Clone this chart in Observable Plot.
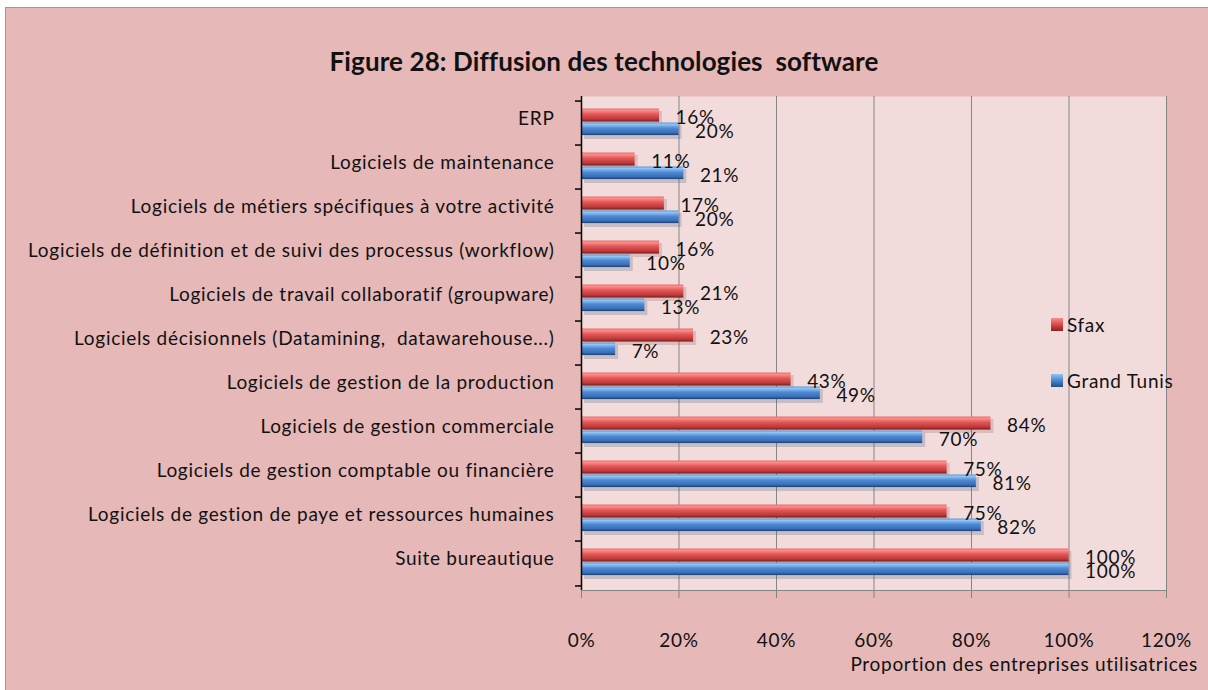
<!DOCTYPE html>
<html>
<head>
<meta charset="utf-8">
<script src="https://cdn.jsdelivr.net/npm/d3@7"></script>
<script src="https://cdn.jsdelivr.net/npm/@observablehq/plot@0.6"></script>
<style>
  html, body { margin: 0; padding: 0; background: #ffffff; }
  body { width: 1208px; height: 690px; overflow: hidden; font-family: Lato, "Open Sans", sans-serif; }
  #frame { position: absolute; left: 5px; top: 7px; width: 1210px; height: 690px; background: #e6b8b7; border: 1px solid #9a9a9a; box-sizing: border-box; }
  #title { position: absolute; left: 0; top: 45px; width: 1208px; text-align: center; font-size: 26px; font-weight: bold; color: #111; letter-spacing: 0.1px; }
  #chart { position: absolute; left: 0; top: 0; }
  .leg { position: absolute; font-size: 19px; letter-spacing: 0.7px; color: #111; display: flex; align-items: center; }
  .sw { width: 12px; height: 13px; margin-right: 4px; }
  #xlabel { position: absolute; right: 10px; top: 652px; font-size: 19px; letter-spacing: 0.7px; color: #111; }
</style>
</head>
<body>
<div id="frame"></div>
<div id="chart"></div>
<div id="title">Figure 28: Diffusion des technologies&nbsp; software</div>
<div class="leg" style="left:1051px; top:313px;"><div class="sw" style="background:linear-gradient(#ff8a8a,#d84a4a 50%,#8a2020);"></div>Sfax</div>
<div class="leg" style="left:1051px; top:369px;"><div class="sw" style="background:linear-gradient(#90c4f5,#4a86d0 50%,#1f4f8a);"></div>Grand Tunis</div>
<div id="xlabel">Proportion des entreprises utilisatrices</div>
<script>
const categories = [
  "ERP",
  "Logiciels de maintenance",
  "Logiciels de métiers spécifiques à votre activité",
  "Logiciels de définition et de suivi des processus (workflow)",
  "Logiciels de travail collaboratif (groupware)",
  "Logiciels décisionnels (Datamining,  datawarehouse...)",
  "Logiciels de gestion de la production",
  "Logiciels de gestion commerciale",
  "Logiciels de gestion comptable ou financière",
  "Logiciels de gestion de paye et ressources humaines",
  "Suite bureautique"
];
const sfax = [16, 11, 17, 16, 21, 23, 43, 84, 75, 75, 100];
const grandTunis = [20, 21, 20, 10, 13, 7, 49, 70, 81, 82, 100];
const xTicks = [0, 20, 40, 60, 80, 100, 120];

const data = categories.map((c, i) => ({cat: c, sfax: sfax[i], gt: grandTunis[i]}));

const defs = () => {
  const ns = "http://www.w3.org/2000/svg";
  const g = document.createElementNS(ns, "g");
  g.innerHTML = `<defs>
    <linearGradient id="gRed" x1="0" y1="0" x2="0" y2="1">
      <stop offset="0" stop-color="#e77070"/>
      <stop offset="0.15" stop-color="#ff8a8a"/>
      <stop offset="0.45" stop-color="#e05656"/>
      <stop offset="0.8" stop-color="#bd3a3a"/>
      <stop offset="1" stop-color="#7a1c1c"/>
    </linearGradient>
    <linearGradient id="gBlue" x1="0" y1="0" x2="0" y2="1">
      <stop offset="0" stop-color="#5f95d6"/>
      <stop offset="0.15" stop-color="#90c4f5"/>
      <stop offset="0.45" stop-color="#4f8ad6"/>
      <stop offset="0.8" stop-color="#3a6eb5"/>
      <stop offset="1" stop-color="#1e4273"/>
    </linearGradient></defs>`;
  return g;
};

const band = (590 - 96) / categories.length;

const chart = Plot.plot({
  width: 1208,
  height: 690,
  marginTop: 96,
  marginBottom: 100,
  marginLeft: 581,
  marginRight: 42,
  style: {background: "transparent", fontFamily: "Lato, sans-serif", fontSize: "19px", color: "#111", letterSpacing: "0.7px"},
  x: {domain: [0, 120], axis: null},
  y: {domain: categories, padding: 0, axis: null},
  marks: [
    defs,
    Plot.frame({fill: "#f2dcdb", stroke: null}),
    Plot.gridX(xTicks.slice(1), {stroke: "#858585", strokeOpacity: 1}),
    Plot.frame({anchor: "bottom", stroke: "#858585"}),
    Plot.axisX(xTicks, {tickSize: 8, tickPadding: 35, tickFormat: d => d + "%", stroke: "#858585", fontSize: 19, label: null}),
    // shadows
    Plot.barX(data, {x: "sfax", y: "cat", insetTop: 8, insetBottom: 22, dx: 3, dy: 2, fill: "#8a6060", fillOpacity: 0.25}),
    Plot.barX(data, {x: "gt", y: "cat", insetTop: 22, insetBottom: 8, dx: 3, dy: 2, fill: "#506080", fillOpacity: 0.25}),
    Plot.barX(data, {x: "sfax", y: "cat", insetTop: 7.5, insetBottom: band - 21.5, fill: "url(#gRed)"}),
    Plot.barX(data, {x: "gt", y: "cat", insetTop: 21.5, insetBottom: band - 35, fill: "url(#gBlue)"}),
    Plot.text(data, {x: "sfax", y: "cat", text: d => d.sfax + "%", dx: 16, dy: -6, textAnchor: "start", fontSize: 19}),
    Plot.text(data, {x: "gt", y: "cat", text: d => d.gt + "%", dx: 16, dy: 8, textAnchor: "start", fontSize: 19}),
    Plot.ruleX([0], {stroke: "#000", strokeWidth: 1.5}),
    Plot.ruleY(categories, {y: d => d, x1: 0, x2: 0, insetLeft: -6, dy: -band / 2, stroke: "#000", strokeWidth: 1.5}),
    Plot.ruleY(categories.slice(-1), {y: d => d, x1: 0, x2: 0, insetLeft: -6, dy: band / 2, stroke: "#000", strokeWidth: 1.5}),
    Plot.text(categories, {x: 0, y: d => d, text: d => d, dx: -27, dy: -5, textAnchor: "end", fontSize: 19})
  ]
});
document.getElementById("chart").appendChild(chart);
</script>
</body>
</html>
